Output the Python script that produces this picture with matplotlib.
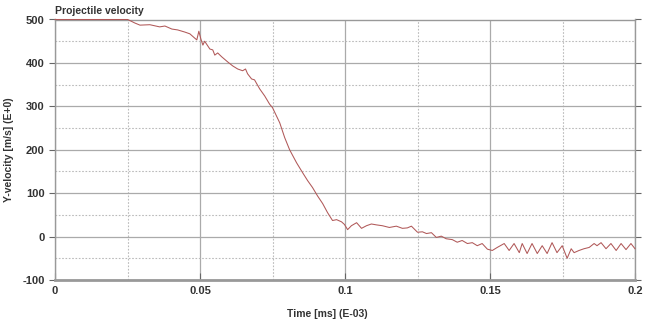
import matplotlib.pyplot as plt
from matplotlib.ticker import MultipleLocator

t = [0, 0.0251, 0.0275, 0.0293, 0.0327, 0.0361, 0.0379, 0.0403, 0.0423, 0.0448,
     0.0465, 0.0482, 0.0489, 0.0496, 0.0503, 0.0510, 0.0516, 0.0527, 0.0534, 0.0544,
     0.0551, 0.0561, 0.0575, 0.0596, 0.0613, 0.0630, 0.0647, 0.0657, 0.0664, 0.0678,
     0.0688, 0.0706, 0.0723, 0.0740, 0.0750, 0.0775, 0.0792, 0.0809, 0.0833, 0.0854,
     0.0871, 0.0888, 0.0905, 0.0923, 0.0940, 0.0957, 0.0971, 0.0988, 0.0998, 0.1009,
     0.1022, 0.1040, 0.1057, 0.1074, 0.1091, 0.1108, 0.1129, 0.1153, 0.1177, 0.1198,
     0.1215, 0.1229, 0.1250, 0.1267, 0.1281, 0.1298, 0.1315, 0.1332, 0.1349, 0.1370,
     0.1387, 0.1404, 0.1422, 0.1439, 0.1456, 0.1473, 0.1491, 0.1508, 0.1525, 0.1549,
     0.1566, 0.1583, 0.1601, 0.1611, 0.1628, 0.1645, 0.1663, 0.1680, 0.1697, 0.1714,
     0.1731, 0.1749, 0.1766, 0.1780, 0.1790, 0.1807, 0.1824, 0.1842, 0.1859, 0.1869,
     0.1883, 0.1900, 0.1917, 0.1935, 0.1952, 0.1969, 0.1986, 0.2000]
v = [500, 500, 492, 487, 488, 483, 485, 478, 476, 471,
     467, 457, 453, 473, 455, 441, 450, 439, 432, 430,
     418, 423, 414, 402, 393, 386, 382, 386, 375, 363,
     361, 340, 324, 305, 297, 262, 228, 200, 170, 147,
     129, 113, 94, 76, 55, 37, 39, 34, 28, 16,
     25, 32, 19, 25, 29, 27, 25, 21, 24, 19,
     20, 24, 10, 11, 7, 9, -2, 1, -5, -7,
     -13, -9, -16, -14, -21, -16, -29, -32, -25, -16,
     -32, -16, -37, -16, -39, -16, -39, -21, -39, -14,
     -37, -21, -50, -28, -37, -32, -28, -25, -16, -21,
     -14, -28, -16, -32, -16, -30, -16, -28]

plt.rcParams['font.family'] = ['Liberation Sans', 'DejaVu Sans']
plt.rcParams['axes.unicode_minus'] = False

fig = plt.figure(figsize=(6.5, 3.24), dpi=100)
ax = fig.add_axes([55/650, 1 - 280/324, 580/650, 260.5/324])

# line sits on top of the top spine at 500, so draw it above everything
ax.plot(t, v, color='#b05858', lw=0.75, clip_on=False, zorder=5)

ax.set_xlim(0, 0.2)
ax.set_ylim(-100, 500)
ax.xaxis.set_major_locator(MultipleLocator(0.05))
ax.xaxis.set_minor_locator(MultipleLocator(0.025))
ax.yaxis.set_major_locator(MultipleLocator(100))
ax.yaxis.set_minor_locator(MultipleLocator(50))
ax.xaxis.set_major_formatter(lambda x, p: '0' if abs(x) < 1e-9 else f'{x:g}')

ax.grid(which='major', color='#aaaaaa', lw=0.9, ls='-')
ax.grid(which='minor', color='#bbbbbb', lw=0.8, ls=(0, (1.5, 1.5)))
ax.set_axisbelow(True)

for s in ['left', 'right', 'top']:
    ax.spines[s].set_color('#999999')
    ax.spines[s].set_linewidth(1.0)
ax.spines['bottom'].set_color('#999999')
ax.spines['bottom'].set_linewidth(2.0)

ax.tick_params(axis='y', which='major', direction='out', length=4, color='#666666',
               labelsize=8, right=True)
ax.tick_params(axis='x', which='major', direction='in', length=5, color='#666666',
               labelsize=8, pad=4)
ax.tick_params(which='minor', length=0)
for lab in ax.get_xticklabels() + ax.get_yticklabels():
    lab.set_fontweight('bold')
    lab.set_color('#333333')

ax.set_xlabel('Time [ms] (E-03)', fontsize=7.5, fontweight='bold', color='#333333')
ax.xaxis.set_label_coords(0.47, -0.11)
ax.set_ylabel('Y-velocity [m/s] (E+0)', fontsize=7.5, fontweight='bold', color='#333333')
ax.yaxis.set_label_coords(-0.07, 0.5)
fig.text(55/650, 1 - 11/324, 'Projectile velocity', fontsize=7.5, fontweight='bold',
         color='#333333', va='center', ha='left')

fig.savefig('out.png', dpi=100)
